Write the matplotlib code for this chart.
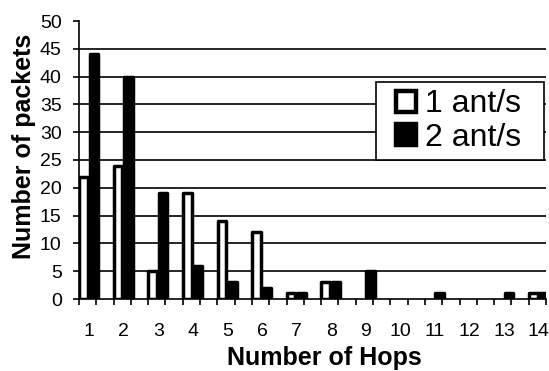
import numpy as np
import matplotlib
matplotlib.use('Agg')
import matplotlib.pyplot as plt
from matplotlib.patches import Patch, Rectangle

plt.rcParams['font.family'] = ['Liberation Sans', 'DejaVu Sans']

# packets received per hop count
hops = np.arange(1, 15)
one_ant = np.array([22, 24, 5, 19, 14, 12, 1, 3, 0, 0, 0, 0, 0, 1])
two_ant = np.array([44, 40, 19, 6, 3, 2, 1, 3, 5, 0, 1, 0, 1, 1])
hop_labels = [str(h) for h in hops]

W, H = 549, 371
fig = plt.figure(figsize=(W / 100, H / 100), dpi=100)
ax = fig.add_axes([79 / W, 1 - 299 / H, 467 / W, 278 / H])

base = hops - 1
w = 0.25
m1 = one_ant > 0
m2 = two_ant > 0
ax.bar(base[m1] + 0.13, one_ant[m1], width=w, color='white', edgecolor='black',
       linewidth=2.5, joinstyle='round', zorder=3)
ax.bar(base[m2] + 0.43, two_ant[m2], width=w, color='black', edgecolor='black',
       linewidth=2.5, joinstyle='round', zorder=4)

ax.set_xlim(0, 13.5)
ax.set_ylim(0, 50)
ax.set_yticks(np.arange(0, 51, 5))
for y in range(5, 50, 5):
    ax.axhline(y, color='black', linewidth=1.2, zorder=1)

ax.set_xticks(base + 0.29)
ax.set_xticklabels(hop_labels)
ax.set_xticks(np.arange(0, 13.51, 0.5), minor=True)
ax.tick_params(axis='x', which='major', length=0, pad=17, labelsize=14)
ax.tick_params(axis='x', which='minor', length=4.5, width=1.2, direction='out')
ax.tick_params(axis='y', length=4.5, width=1.2, pad=8, labelsize=14)

for s in ['top', 'right']:
    ax.spines[s].set_visible(False)
for s in ['left', 'bottom']:
    ax.spines[s].set_linewidth(1.2)

fig.text(0.59, 0.034, 'Number of Hops', ha='center', va='center',
         fontsize=18, fontweight='bold')
fig.text(0.044, 0.606, 'Number of packets', ha='center', va='center',
         rotation=90, fontsize=18, fontweight='bold')

# legend box drawn separately so the padding can be wider than the entries
box = Rectangle((376 / W, 1 - 160 / H), 168 / W, 78 / H, transform=fig.transFigure,
                facecolor='white', edgecolor='black', linewidth=1.2, zorder=9)
fig.add_artist(box)

handles = [Patch(facecolor='white', edgecolor='black', linewidth=3.2),
           Patch(facecolor='black', edgecolor='black', linewidth=3.2)]
leg = fig.legend(handles, ['1 ant/s', '2 ant/s'], loc='center left',
                 bbox_to_anchor=(396 / W, 1 - 121 / H),
                 bbox_transform=fig.transFigure, fontsize=23,
                 handlelength=0.62, handleheight=0.62, handletextpad=0.3,
                 borderpad=0, labelspacing=0.1, borderaxespad=0,
                 frameon=False)
leg.set_zorder(10)

fig.savefig('out.png', dpi=100)
